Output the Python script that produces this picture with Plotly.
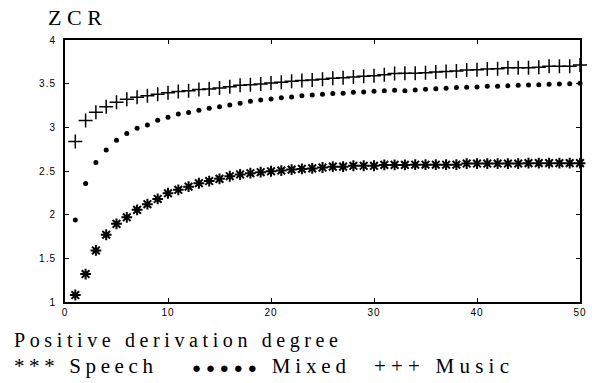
import plotly.graph_objects as go

x_vals = list(range(1, 51))

speech = [1.08, 1.32, 1.59, 1.77, 1.895, 1.97, 2.055, 2.12, 2.18, 2.245,
          2.285, 2.32, 2.36, 2.385, 2.41, 2.44, 2.46, 2.475, 2.486, 2.497,
          2.505, 2.516, 2.524, 2.53, 2.54, 2.55, 2.55, 2.56, 2.56, 2.56,
          2.57, 2.57, 2.57, 2.572, 2.572, 2.572, 2.572, 2.572, 2.585, 2.585,
          2.585, 2.585, 2.585, 2.585, 2.59, 2.59, 2.59, 2.59, 2.59, 2.59]

mixed = [1.94, 2.356, 2.597, 2.741, 2.852, 2.928, 2.989, 3.027, 3.081, 3.115,
         3.153, 3.169, 3.195, 3.218, 3.237, 3.256, 3.275, 3.298, 3.313, 3.325,
         3.34, 3.348, 3.363, 3.371, 3.378, 3.386, 3.39, 3.401, 3.405, 3.413,
         3.42, 3.424, 3.42, 3.428, 3.436, 3.443, 3.447, 3.455, 3.458, 3.462,
         3.47, 3.47, 3.477, 3.481, 3.485, 3.489, 3.493, 3.497, 3.50, 3.504]

music = [2.837, 3.077, 3.172, 3.237, 3.287, 3.321, 3.344, 3.363, 3.378, 3.397,
         3.409, 3.42, 3.432, 3.439, 3.451, 3.466, 3.481, 3.489, 3.497, 3.508,
         3.516, 3.527, 3.535, 3.542, 3.55, 3.561, 3.569, 3.577, 3.584, 3.592,
         3.603, 3.615, 3.619, 3.62, 3.626, 3.634, 3.638, 3.645, 3.657, 3.66,
         3.668, 3.672, 3.683, 3.683, 3.683, 3.687, 3.70, 3.70, 3.70, 3.714]

x_ticks = [0, 10, 20, 30, 40, 50]
y_ticks = [1, 1.5, 2, 2.5, 3, 3.5, 4]
y_tick_text = ["1", "1.5", "2", "2.5", "3", "3.5", "4"]

title_text = "ZCR"
xlabel_text = "Positive derivation degree"
legend_labels = ["Speech", "Mixed", "Music"]
legend_glyphs = ["***", "●●●●●", "+++"]

SERIF = "Liberation Serif, Times New Roman, Times, serif"

fig = go.Figure()
fig.add_trace(go.Scatter(x=x_vals, y=speech, mode="markers", name=legend_labels[0],
                         marker=dict(symbol="asterisk-open", size=9, color="black",
                                     line=dict(color="black", width=2)),
                         cliponaxis=False))
fig.add_trace(go.Scatter(x=x_vals, y=mixed, mode="markers", name=legend_labels[1],
                         marker=dict(symbol="circle", size=5, color="black",
                                     line=dict(width=0)),
                         cliponaxis=False))
fig.add_trace(go.Scatter(x=x_vals, y=music, mode="markers", name=legend_labels[2],
                         marker=dict(symbol="cross-thin-open", size=10, color="black",
                                     line=dict(color="black", width=1.5)),
                         cliponaxis=False))

axis_common = dict(showline=True, linecolor="black", linewidth=2, mirror="ticks",
                   ticks="inside", ticklen=4, tickwidth=1, tickcolor="black",
                   showgrid=False, zeroline=False,
                   tickfont=dict(family="Liberation Sans, Arial, sans-serif", size=10, color="black"))

fig.update_xaxes(range=[0, 50], tickvals=x_ticks, **axis_common)
fig.update_yaxes(range=[1, 4], tickvals=y_ticks, ticktext=y_tick_text,
                 ticklabelstandoff=5, **axis_common)

W, H = 592, 383
ML, MR, MT, MB = 65, 6, 40, 81
plot_w = W - ML - MR
plot_h = H - MT - MB


def px_to_paper(px, py):
    return (px - ML) / plot_w, (H - MB - py) / plot_h


legend_texts = [
    legend_glyphs[0] + " " + legend_labels[0],
    '<span style="font-size:15px">' + legend_glyphs[1] + "</span> " + legend_labels[1],
    legend_glyphs[2] + " " + legend_labels[2],
]

# (text, left px, middle y px, font size)
ann_specs = [
    (title_text, 47, 18, 22),
    (xlabel_text, 12, 340, 20),
    (legend_texts[0], 12, 366, 21),
    (legend_texts[1], 192, 366, 21),
    (legend_texts[2], 377, 366, 21),
]
annotations = []
for txt, px, py, fs in ann_specs:
    ax, ay = px_to_paper(px, py)
    annotations.append(dict(text=txt, x=ax, y=ay, xref="paper", yref="paper",
                            showarrow=False, xanchor="left", yanchor="middle",
                            font=dict(family=SERIF, size=fs, color="black")))

fig.update_layout(
    width=W, height=H,
    margin=dict(l=ML, r=MR, t=MT, b=MB),
    paper_bgcolor="white", plot_bgcolor="white",
    showlegend=False,
    annotations=annotations,
)

# stretch the letter-spaced texts to the widths they have in the reference
post = """
var gd = document.getElementById('{plot_id}');
var widths = [54, 324, 139, 154, 135];
function fit(){
  gd.querySelectorAll('.annotation-text').forEach(function(e, i){
    var w = widths[i];
    if(!w) return;
    e.setAttribute('text-anchor', 'start');
    e.setAttribute('lengthAdjust', 'spacing');
    e.setAttribute('textLength', w);
    e.setAttribute('x', 1);
  });
  gd.querySelectorAll('.xtick text, .ytick text').forEach(function(e){
    e.style.letterSpacing = '1px';
  });
}
fit();
gd.on('plotly_afterplot', fit);
"""

fig.write_html("out.html", post_script=post)
